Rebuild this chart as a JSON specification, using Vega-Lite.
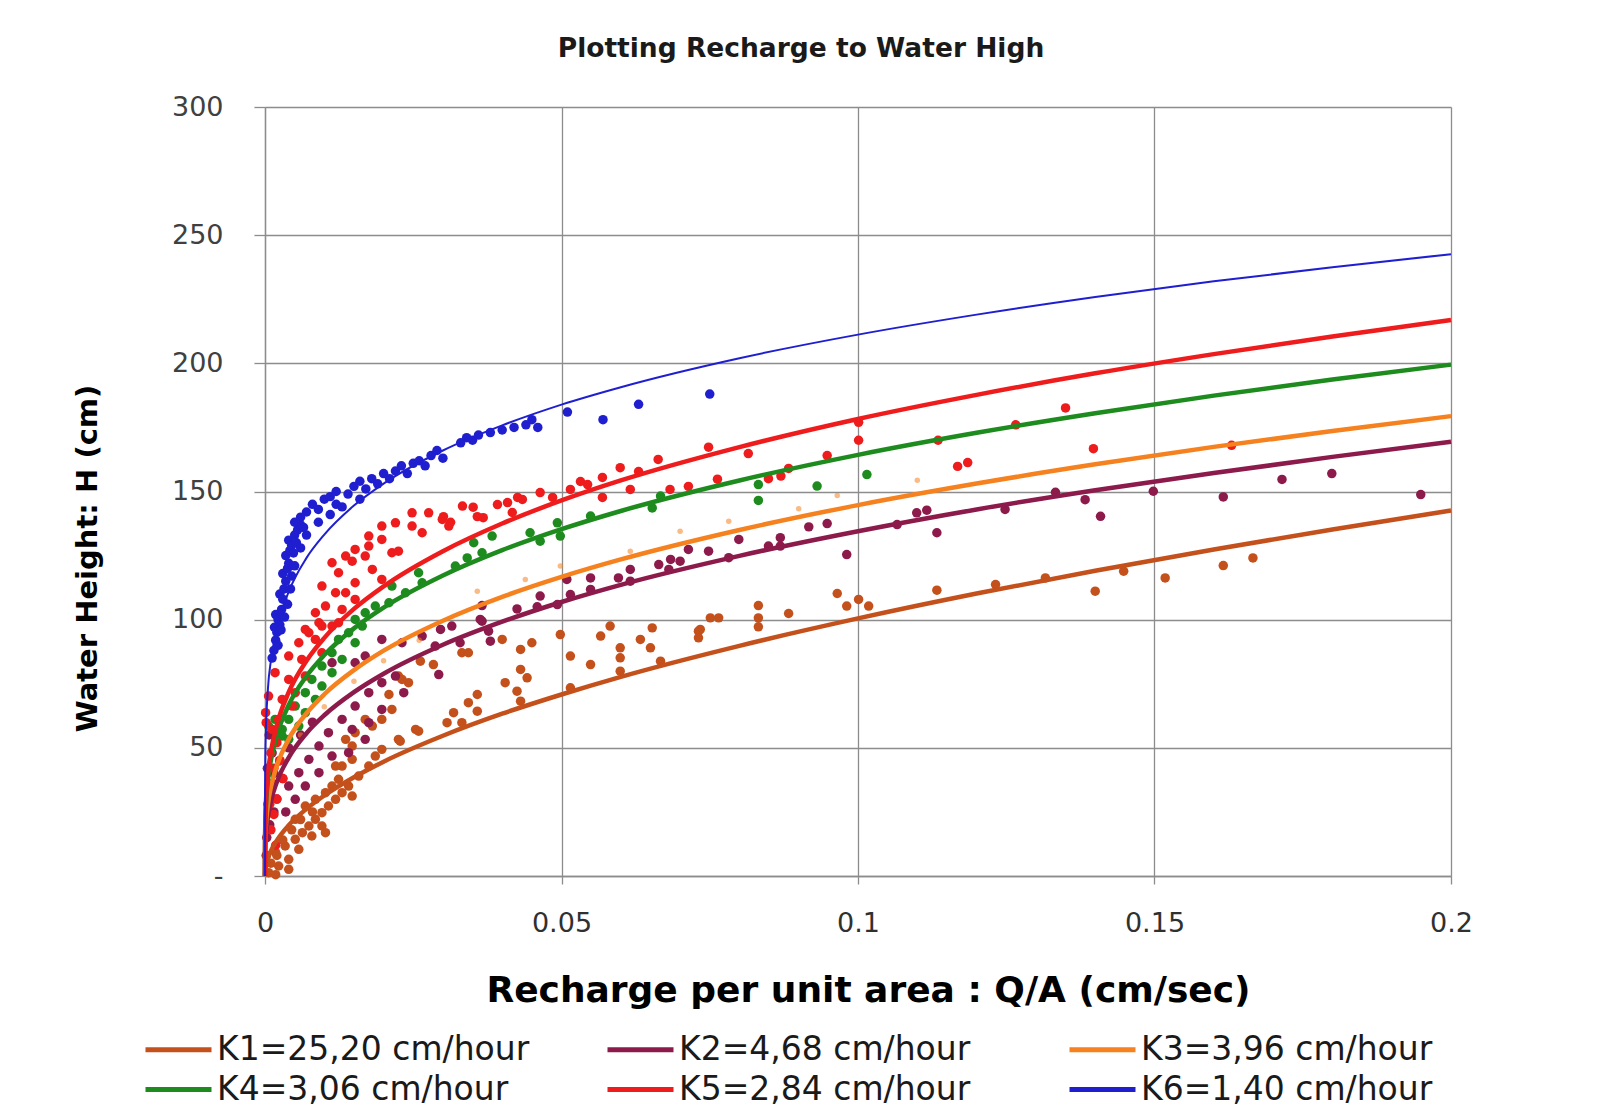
{
"$schema": "https://vega.github.io/schema/vega-lite/v6.json",
"width": 1186, "height": 769,
"autosize": {"type": "none"},
"padding": {"left": 265, "top": 107, "right": 151, "bottom": 241},
"background": "white",
"title": {"text": "Plotting Recharge to Water High", "font": "DejaVu Sans", "fontSize": 26.5, "fontWeight": "bold", "color": "#1a1a1a", "anchor": "middle", "dx": -57, "offset": 31},
"datasets": {
"pts": [
{"k":"K1=25,20 cm/hour","x":0.0006,"h":1.3},{"k":"K1=25,20 cm/hour","x":0.0023,"h":3.9},{"k":"K1=25,20 cm/hour","x":0.004,"h":6.5},{"k":"K1=25,20 cm/hour","x":0.0018,"h":9.1},{"k":"K1=25,20 cm/hour","x":0.0034,"h":11.7},{"k":"K1=25,20 cm/hour","x":0.0051,"h":14.3},{"k":"K1=25,20 cm/hour","x":0.0063,"h":16.9},{"k":"K1=25,20 cm/hour","x":0.0074,"h":19.5},{"k":"K1=25,20 cm/hour","x":0.0085,"h":22.1},{"k":"K1=25,20 cm/hour","x":0.0096,"h":24.7},{"k":"K1=25,20 cm/hour","x":0.0107,"h":27.3},{"k":"K1=25,20 cm/hour","x":0.0119,"h":29.9},{"k":"K1=25,20 cm/hour","x":0.0057,"h":10.4},{"k":"K1=25,20 cm/hour","x":0.0079,"h":15.6},{"k":"K1=25,20 cm/hour","x":0.0096,"h":19.5},{"k":"K1=25,20 cm/hour","x":0.0102,"h":16.9},{"k":"K1=25,20 cm/hour","x":0.004,"h":2.6},{"k":"K1=25,20 cm/hour","x":0.0018,"h":0.5},{"k":"K1=25,20 cm/hour","x":0.0068,"h":27.3},{"k":"K1=25,20 cm/hour","x":0.0085,"h":29.9},{"k":"K1=25,20 cm/hour","x":0.0051,"h":22.1},{"k":"K1=25,20 cm/hour","x":0.0102,"h":32.5},{"k":"K1=25,20 cm/hour","x":0.0113,"h":35.1},{"k":"K1=25,20 cm/hour","x":0.013,"h":32.5},{"k":"K1=25,20 cm/hour","x":0.0141,"h":35.1},{"k":"K1=25,20 cm/hour","x":0.0147,"h":31.2},{"k":"K1=25,20 cm/hour","x":0.0124,"h":37.7},{"k":"K1=25,20 cm/hour","x":0.0158,"h":39},{"k":"K1=25,20 cm/hour","x":0.013,"h":42.9},{"k":"K1=25,20 cm/hour","x":0.0147,"h":45.5},{"k":"K1=25,20 cm/hour","x":0.0175,"h":42.9},{"k":"K1=25,20 cm/hour","x":0.0186,"h":46.8},{"k":"K1=25,20 cm/hour","x":0.0197,"h":49.4},{"k":"K1=25,20 cm/hour","x":0.0119,"h":42.9},{"k":"K1=25,20 cm/hour","x":0.0147,"h":50.7},{"k":"K1=25,20 cm/hour","x":0.0136,"h":53.3},{"k":"K1=25,20 cm/hour","x":0.0152,"h":55.9},{"k":"K1=25,20 cm/hour","x":0.0181,"h":58.5},{"k":"K1=25,20 cm/hour","x":0.0197,"h":61.1},{"k":"K1=25,20 cm/hour","x":0.0214,"h":65},{"k":"K1=25,20 cm/hour","x":0.0254,"h":57.2},{"k":"K1=25,20 cm/hour","x":0.0225,"h":53.3},{"k":"K1=25,20 cm/hour","x":0.0169,"h":61.1},{"k":"K1=25,20 cm/hour","x":0.001,"h":5},{"k":"K1=25,20 cm/hour","x":0.002,"h":8},{"k":"K1=25,20 cm/hour","x":0.003,"h":14},{"k":"K1=25,20 cm/hour","x":0.0045,"h":18},{"k":"K1=25,20 cm/hour","x":0.006,"h":22},{"k":"K1=25,20 cm/hour","x":0.008,"h":25},{"k":"K1=25,20 cm/hour","x":0.0225,"h":78},{"k":"K1=25,20 cm/hour","x":0.0242,"h":75.4},{"k":"K1=25,20 cm/hour","x":0.0209,"h":70.8},
{"k":"K1=25,20 cm/hour","x":0.0231,"h":76.7},{"k":"K1=25,20 cm/hour","x":0.0262,"h":83.8},{"k":"K1=25,20 cm/hour","x":0.0284,"h":82.5},{"k":"K1=25,20 cm/hour","x":0.0332,"h":87.1},{"k":"K1=25,20 cm/hour","x":0.0343,"h":87.1},{"k":"K1=25,20 cm/hour","x":0.04,"h":92.3},{"k":"K1=25,20 cm/hour","x":0.0431,"h":88.4},{"k":"K1=25,20 cm/hour","x":0.045,"h":91},{"k":"K1=25,20 cm/hour","x":0.0498,"h":94.2},{"k":"K1=25,20 cm/hour","x":0.0515,"h":85.8},{"k":"K1=25,20 cm/hour","x":0.0549,"h":82.5},{"k":"K1=25,20 cm/hour","x":0.0566,"h":93.6},{"k":"K1=25,20 cm/hour","x":0.0582,"h":97.5},{"k":"K1=25,20 cm/hour","x":0.0599,"h":89},{"k":"K1=25,20 cm/hour","x":0.0599,"h":85.1},{"k":"K1=25,20 cm/hour","x":0.0633,"h":92.3},{"k":"K1=25,20 cm/hour","x":0.065,"h":89},{"k":"K1=25,20 cm/hour","x":0.0653,"h":96.8},{"k":"K1=25,20 cm/hour","x":0.0667,"h":83.8},{"k":"K1=25,20 cm/hour","x":0.0731,"h":95.5},{"k":"K1=25,20 cm/hour","x":0.0731,"h":92.9},{"k":"K1=25,20 cm/hour","x":0.0751,"h":100.7},{"k":"K1=25,20 cm/hour","x":0.0515,"h":73.4},{"k":"K1=25,20 cm/hour","x":0.0599,"h":79.9},{"k":"K1=25,20 cm/hour","x":0.0431,"h":80.6},{"k":"K1=25,20 cm/hour","x":0.0442,"h":77.3},{"k":"K1=25,20 cm/hour","x":0.0405,"h":75.4},{"k":"K1=25,20 cm/hour","x":0.0425,"h":72.1},{"k":"K1=25,20 cm/hour","x":0.0431,"h":68.2},{"k":"K1=25,20 cm/hour","x":0.0358,"h":70.8},{"k":"K1=25,20 cm/hour","x":0.0343,"h":67.6},{"k":"K1=25,20 cm/hour","x":0.0358,"h":64.3},{"k":"K1=25,20 cm/hour","x":0.0318,"h":63.7},{"k":"K1=25,20 cm/hour","x":0.0307,"h":59.8},{"k":"K1=25,20 cm/hour","x":0.0332,"h":59.8},{"k":"K1=25,20 cm/hour","x":0.0259,"h":56.5},{"k":"K1=25,20 cm/hour","x":0.0228,"h":52.6},
{"k":"K1=25,20 cm/hour","x":0.0832,"h":105.5},{"k":"K1=25,20 cm/hour","x":0.0832,"h":100.7},{"k":"K1=25,20 cm/hour","x":0.0832,"h":97.2},{"k":"K1=25,20 cm/hour","x":0.0883,"h":102.4},{"k":"K1=25,20 cm/hour","x":0.0765,"h":100.7},{"k":"K1=25,20 cm/hour","x":0.0734,"h":96.2},{"k":"K1=25,20 cm/hour","x":0.0965,"h":110.2},{"k":"K1=25,20 cm/hour","x":0.0981,"h":105.3},{"k":"K1=25,20 cm/hour","x":0.1001,"h":107.9},{"k":"K1=25,20 cm/hour","x":0.1018,"h":105.3},{"k":"K1=25,20 cm/hour","x":0.1133,"h":111.5},{"k":"K1=25,20 cm/hour","x":0.1232,"h":113.7},{"k":"K1=25,20 cm/hour","x":0.1316,"h":116.3},{"k":"K1=25,20 cm/hour","x":0.14,"h":111.1},{"k":"K1=25,20 cm/hour","x":0.1448,"h":118.9},{"k":"K1=25,20 cm/hour","x":0.1518,"h":116.3},{"k":"K1=25,20 cm/hour","x":0.1616,"h":121.1},{"k":"K1=25,20 cm/hour","x":0.1666,"h":124.1},
{"k":"K2=4,68 cm/hour","x":0.0003,"h":15},{"k":"K2=4,68 cm/hour","x":0.0008,"h":20},{"k":"K2=4,68 cm/hour","x":0.0005,"h":28},{"k":"K2=4,68 cm/hour","x":0.001,"h":35},{"k":"K2=4,68 cm/hour","x":0.0004,"h":42},{"k":"K2=4,68 cm/hour","x":0.0012,"h":48},{"k":"K2=4,68 cm/hour","x":0.0007,"h":55},{"k":"K2=4,68 cm/hour","x":0.0015,"h":25},{"k":"K2=4,68 cm/hour","x":0.0002,"h":8},{"k":"K2=4,68 cm/hour","x":0.002,"h":30},{"k":"K2=4,68 cm/hour","x":0.003,"h":38},{"k":"K2=4,68 cm/hour","x":0.0025,"h":45},{"k":"K2=4,68 cm/hour","x":0.004,"h":50},{"k":"K2=4,68 cm/hour","x":0.006,"h":55},{"k":"K2=4,68 cm/hour","x":0.008,"h":60},{"k":"K2=4,68 cm/hour","x":0.0035,"h":25},{"k":"K2=4,68 cm/hour","x":0.0015,"h":40},
{"k":"K2=4,68 cm/hour","x":0.004,"h":35.1},{"k":"K2=4,68 cm/hour","x":0.0057,"h":40.3},{"k":"K2=4,68 cm/hour","x":0.0074,"h":45.5},{"k":"K2=4,68 cm/hour","x":0.0091,"h":50.7},{"k":"K2=4,68 cm/hour","x":0.0107,"h":55.9},{"k":"K2=4,68 cm/hour","x":0.013,"h":61.1},{"k":"K2=4,68 cm/hour","x":0.0152,"h":66.3},{"k":"K2=4,68 cm/hour","x":0.0175,"h":71.5},{"k":"K2=4,68 cm/hour","x":0.0197,"h":75.4},{"k":"K2=4,68 cm/hour","x":0.022,"h":78},{"k":"K2=4,68 cm/hour","x":0.0051,"h":29.9},{"k":"K2=4,68 cm/hour","x":0.0068,"h":35.1},{"k":"K2=4,68 cm/hour","x":0.0091,"h":40.3},{"k":"K2=4,68 cm/hour","x":0.0113,"h":46.8},{"k":"K2=4,68 cm/hour","x":0.0141,"h":48.1},{"k":"K2=4,68 cm/hour","x":0.0169,"h":53.3},{"k":"K2=4,68 cm/hour","x":0.0147,"h":57.2},{"k":"K2=4,68 cm/hour","x":0.0175,"h":59.8},{"k":"K2=4,68 cm/hour","x":0.0197,"h":65},{"k":"K2=4,68 cm/hour","x":0.0113,"h":83.2},{"k":"K2=4,68 cm/hour","x":0.0152,"h":83.2},{"k":"K2=4,68 cm/hour","x":0.0169,"h":85.8},{"k":"K2=4,68 cm/hour","x":0.0197,"h":92.3},{"k":"K2=4,68 cm/hour","x":0.0231,"h":91},{"k":"K2=4,68 cm/hour","x":0.0265,"h":93.6},{"k":"K2=4,68 cm/hour","x":0.0287,"h":89.7},{"k":"K2=4,68 cm/hour","x":0.0315,"h":97.5},{"k":"K2=4,68 cm/hour","x":0.0293,"h":78.6},
{"k":"K2=4,68 cm/hour","x":0.0366,"h":105.5},{"k":"K2=4,68 cm/hour","x":0.0425,"h":104.2},{"k":"K2=4,68 cm/hour","x":0.0459,"h":105},{"k":"K2=4,68 cm/hour","x":0.0493,"h":105.9},{"k":"K2=4,68 cm/hour","x":0.0366,"h":99.4},{"k":"K2=4,68 cm/hour","x":0.0329,"h":91},{"k":"K2=4,68 cm/hour","x":0.0377,"h":95.5},{"k":"K2=4,68 cm/hour","x":0.038,"h":91.6},{"k":"K2=4,68 cm/hour","x":0.0234,"h":71.5},{"k":"K2=4,68 cm/hour","x":0.0296,"h":96.2},{"k":"K2=4,68 cm/hour","x":0.0363,"h":100.1},{"k":"K2=4,68 cm/hour","x":0.0464,"h":109.2},{"k":"K2=4,68 cm/hour","x":0.0509,"h":115.7},{"k":"K2=4,68 cm/hour","x":0.0515,"h":109.8},{"k":"K2=4,68 cm/hour","x":0.0549,"h":116.3},{"k":"K2=4,68 cm/hour","x":0.0549,"h":111.8},{"k":"K2=4,68 cm/hour","x":0.0596,"h":116.3},{"k":"K2=4,68 cm/hour","x":0.0616,"h":119.6},{"k":"K2=4,68 cm/hour","x":0.0616,"h":115},{"k":"K2=4,68 cm/hour","x":0.0664,"h":121.5},{"k":"K2=4,68 cm/hour","x":0.0684,"h":123.5},{"k":"K2=4,68 cm/hour","x":0.0681,"h":119.6},{"k":"K2=4,68 cm/hour","x":0.07,"h":122.8},{"k":"K2=4,68 cm/hour","x":0.0714,"h":127.4},{"k":"K2=4,68 cm/hour","x":0.0748,"h":126.7},
{"k":"K2=4,68 cm/hour","x":0.0799,"h":131.3},{"k":"K2=4,68 cm/hour","x":0.0782,"h":124.2},{"k":"K2=4,68 cm/hour","x":0.0849,"h":128.7},{"k":"K2=4,68 cm/hour","x":0.0869,"h":132},{"k":"K2=4,68 cm/hour","x":0.0869,"h":128.7},{"k":"K2=4,68 cm/hour","x":0.0917,"h":136.2},{"k":"K2=4,68 cm/hour","x":0.0948,"h":137.5},{"k":"K2=4,68 cm/hour","x":0.0981,"h":125.4},{"k":"K2=4,68 cm/hour","x":0.1066,"h":137.1},{"k":"K2=4,68 cm/hour","x":0.1099,"h":141.7},{"k":"K2=4,68 cm/hour","x":0.1116,"h":142.7},{"k":"K2=4,68 cm/hour","x":0.1133,"h":133.9},{"k":"K2=4,68 cm/hour","x":0.1248,"h":143},{"k":"K2=4,68 cm/hour","x":0.1333,"h":149.7},{"k":"K2=4,68 cm/hour","x":0.1383,"h":146.8},{"k":"K2=4,68 cm/hour","x":0.1409,"h":140.3},{"k":"K2=4,68 cm/hour","x":0.1498,"h":150.1},{"k":"K2=4,68 cm/hour","x":0.1616,"h":147.9},{"k":"K2=4,68 cm/hour","x":0.1715,"h":154.7},{"k":"K2=4,68 cm/hour","x":0.1799,"h":157},{"k":"K2=4,68 cm/hour","x":0.1949,"h":148.8},
{"k":"K3=3,96 cm/hour","x":0.0358,"h":111.1},{"k":"K3=3,96 cm/hour","x":0.0439,"h":115.7},{"k":"K3=3,96 cm/hour","x":0.0498,"h":120.9},{"k":"K3=3,96 cm/hour","x":0.0616,"h":126.7},{"k":"K3=3,96 cm/hour","x":0.07,"h":134.5},{"k":"K3=3,96 cm/hour","x":0.0782,"h":138.4},{"k":"K3=3,96 cm/hour","x":0.09,"h":143.3},{"k":"K3=3,96 cm/hour","x":0.0965,"h":148.4},{"k":"K3=3,96 cm/hour","x":0.11,"h":154.4},{"k":"K3=3,96 cm/hour","x":0.003,"h":45},{"k":"K3=3,96 cm/hour","x":0.006,"h":55},{"k":"K3=3,96 cm/hour","x":0.01,"h":66},{"k":"K3=3,96 cm/hour","x":0.015,"h":76},{"k":"K3=3,96 cm/hour","x":0.02,"h":84},{"k":"K3=3,96 cm/hour","x":0.026,"h":92},
{"k":"K4=3,06 cm/hour","x":0.0164,"h":97.5},{"k":"K4=3,06 cm/hour","x":0.0141,"h":94.9},{"k":"K4=3,06 cm/hour","x":0.0124,"h":92.3},{"k":"K4=3,06 cm/hour","x":0.0152,"h":91},{"k":"K4=3,06 cm/hour","x":0.0113,"h":87.1},{"k":"K4=3,06 cm/hour","x":0.013,"h":84.5},{"k":"K4=3,06 cm/hour","x":0.0096,"h":81.9},{"k":"K4=3,06 cm/hour","x":0.0113,"h":79.3},{"k":"K4=3,06 cm/hour","x":0.0079,"h":76.7},{"k":"K4=3,06 cm/hour","x":0.0096,"h":74.1},{"k":"K4=3,06 cm/hour","x":0.0068,"h":71.5},{"k":"K4=3,06 cm/hour","x":0.0085,"h":68.9},{"k":"K4=3,06 cm/hour","x":0.0051,"h":66.3},{"k":"K4=3,06 cm/hour","x":0.0068,"h":63.7},{"k":"K4=3,06 cm/hour","x":0.004,"h":61.1},{"k":"K4=3,06 cm/hour","x":0.0057,"h":58.5},{"k":"K4=3,06 cm/hour","x":0.0029,"h":57.2},{"k":"K4=3,06 cm/hour","x":0.0017,"h":61.1},{"k":"K4=3,06 cm/hour","x":0.004,"h":53.3},{"k":"K4=3,06 cm/hour","x":0.0029,"h":54.6},{"k":"K4=3,06 cm/hour","x":0.0006,"h":58.5},
{"k":"K4=3,06 cm/hour","x":0.0259,"h":118.3},{"k":"K4=3,06 cm/hour","x":0.0265,"h":114.4},{"k":"K4=3,06 cm/hour","x":0.0214,"h":113.1},{"k":"K4=3,06 cm/hour","x":0.0237,"h":110.5},{"k":"K4=3,06 cm/hour","x":0.0186,"h":105.3},{"k":"K4=3,06 cm/hour","x":0.0209,"h":106.6},{"k":"K4=3,06 cm/hour","x":0.0152,"h":100.1},{"k":"K4=3,06 cm/hour","x":0.0169,"h":102.7},
{"k":"K4=3,06 cm/hour","x":0.0321,"h":120.9},{"k":"K4=3,06 cm/hour","x":0.0341,"h":124.1},{"k":"K4=3,06 cm/hour","x":0.0366,"h":126.1},{"k":"K4=3,06 cm/hour","x":0.0352,"h":130},{"k":"K4=3,06 cm/hour","x":0.0383,"h":132.6},{"k":"K4=3,06 cm/hour","x":0.0447,"h":133.9},{"k":"K4=3,06 cm/hour","x":0.0464,"h":130.6},{"k":"K4=3,06 cm/hour","x":0.0493,"h":137.8},{"k":"K4=3,06 cm/hour","x":0.0498,"h":132.6},{"k":"K4=3,06 cm/hour","x":0.0549,"h":140.4},{"k":"K4=3,06 cm/hour","x":0.0653,"h":143.6},{"k":"K4=3,06 cm/hour","x":0.0667,"h":148.2},{"k":"K4=3,06 cm/hour","x":0.0832,"h":152.7},{"k":"K4=3,06 cm/hour","x":0.0832,"h":146.5},{"k":"K4=3,06 cm/hour","x":0.0931,"h":152.1},{"k":"K4=3,06 cm/hour","x":0.1015,"h":156.6},
{"k":"K5=2,84 cm/hour","x":0.0301,"h":140.2},{"k":"K5=2,84 cm/hour","x":0.0313,"h":138},{"k":"K5=2,84 cm/hour","x":0.0333,"h":144.3},{"k":"K5=2,84 cm/hour","x":0.0351,"h":143.9},{"k":"K5=2,84 cm/hour","x":0.0358,"h":140.2},{"k":"K5=2,84 cm/hour","x":0.0368,"h":139.8},{"k":"K5=2,84 cm/hour","x":0.0392,"h":144.9},{"k":"K5=2,84 cm/hour","x":0.0409,"h":145.7},{"k":"K5=2,84 cm/hour","x":0.0426,"h":147.7},{"k":"K5=2,84 cm/hour","x":0.0434,"h":146.9},{"k":"K5=2,84 cm/hour","x":0.0417,"h":141.8},{"k":"K5=2,84 cm/hour","x":0.0464,"h":149.6},{"k":"K5=2,84 cm/hour","x":0.0485,"h":147.7},{"k":"K5=2,84 cm/hour","x":0.0515,"h":150.8},{"k":"K5=2,84 cm/hour","x":0.0532,"h":153.9},{"k":"K5=2,84 cm/hour","x":0.0544,"h":152.7},{"k":"K5=2,84 cm/hour","x":0.0569,"h":155.5},{"k":"K5=2,84 cm/hour","x":0.0599,"h":159.3},{"k":"K5=2,84 cm/hour","x":0.0569,"h":147.7},{"k":"K5=2,84 cm/hour","x":0.0616,"h":150.8},{"k":"K5=2,84 cm/hour","x":0.063,"h":157.8},{"k":"K5=2,84 cm/hour","x":0.0663,"h":162.5},{"k":"K5=2,84 cm/hour","x":0.0683,"h":150.8},{"k":"K5=2,84 cm/hour","x":0.0714,"h":152},{"k":"K5=2,84 cm/hour","x":0.0748,"h":167.3},{"k":"K5=2,84 cm/hour","x":0.0763,"h":154.8},
{"k":"K5=2,84 cm/hour","x":0.0815,"h":164.8},{"k":"K5=2,84 cm/hour","x":0.0849,"h":155},{"k":"K5=2,84 cm/hour","x":0.087,"h":156},{"k":"K5=2,84 cm/hour","x":0.0883,"h":159},{"k":"K5=2,84 cm/hour","x":0.0948,"h":164},{"k":"K5=2,84 cm/hour","x":0.1001,"h":177},{"k":"K5=2,84 cm/hour","x":0.1001,"h":170},{"k":"K5=2,84 cm/hour","x":0.1135,"h":170},{"k":"K5=2,84 cm/hour","x":0.1168,"h":159.8},{"k":"K5=2,84 cm/hour","x":0.1185,"h":161.3},{"k":"K5=2,84 cm/hour","x":0.1266,"h":176},{"k":"K5=2,84 cm/hour","x":0.135,"h":182.6},{"k":"K5=2,84 cm/hour","x":0.1397,"h":166.7},{"k":"K5=2,84 cm/hour","x":0.163,"h":168},
{"k":"K5=2,84 cm/hour","x":0.0175,"h":132.6},{"k":"K5=2,84 cm/hour","x":0.0197,"h":136.5},{"k":"K5=2,84 cm/hour","x":0.022,"h":137.8},{"k":"K5=2,84 cm/hour","x":0.0248,"h":141.7},{"k":"K5=2,84 cm/hour","x":0.0276,"h":141.7},{"k":"K5=2,84 cm/hour","x":0.0299,"h":139.1},{"k":"K5=2,84 cm/hour","x":0.031,"h":136.5},{"k":"K5=2,84 cm/hour","x":0.0248,"h":136.5},{"k":"K5=2,84 cm/hour","x":0.0265,"h":133.9},{"k":"K5=2,84 cm/hour","x":0.0197,"h":131.3},{"k":"K5=2,84 cm/hour","x":0.0175,"h":128.7},{"k":"K5=2,84 cm/hour","x":0.0152,"h":127.4},{"k":"K5=2,84 cm/hour","x":0.0136,"h":124.8},{"k":"K5=2,84 cm/hour","x":0.0147,"h":122.8},{"k":"K5=2,84 cm/hour","x":0.0113,"h":122.2},{"k":"K5=2,84 cm/hour","x":0.0124,"h":118.3},{"k":"K5=2,84 cm/hour","x":0.0181,"h":119.6},{"k":"K5=2,84 cm/hour","x":0.0197,"h":115.7},{"k":"K5=2,84 cm/hour","x":0.0214,"h":126.1},{"k":"K5=2,84 cm/hour","x":0.0225,"h":126.7},{"k":"K5=2,84 cm/hour","x":0.0169,"h":124.8},{"k":"K5=2,84 cm/hour","x":0.0096,"h":113.1},{"k":"K5=2,84 cm/hour","x":0.0119,"h":110.5},{"k":"K5=2,84 cm/hour","x":0.0152,"h":114.4},{"k":"K5=2,84 cm/hour","x":0.0136,"h":110.5},{"k":"K5=2,84 cm/hour","x":0.0102,"h":105.3},{"k":"K5=2,84 cm/hour","x":0.0085,"h":102.7},{"k":"K5=2,84 cm/hour","x":0.013,"h":104},{"k":"K5=2,84 cm/hour","x":0.0152,"h":107.9},{"k":"K5=2,84 cm/hour","x":0.0091,"h":98.8},{"k":"K5=2,84 cm/hour","x":0.0113,"h":97.5},{"k":"K5=2,84 cm/hour","x":0.0074,"h":94.9},
{"k":"K5=2,84 cm/hour","x":0.0068,"h":96.2},{"k":"K5=2,84 cm/hour","x":0.0096,"h":97.5},{"k":"K5=2,84 cm/hour","x":0.0124,"h":98.8},{"k":"K5=2,84 cm/hour","x":0.0057,"h":91},{"k":"K5=2,84 cm/hour","x":0.0085,"h":92.3},{"k":"K5=2,84 cm/hour","x":0.004,"h":85.8},{"k":"K5=2,84 cm/hour","x":0.0062,"h":84.5},{"k":"K5=2,84 cm/hour","x":0.0096,"h":87.1},{"k":"K5=2,84 cm/hour","x":0.0017,"h":79.3},{"k":"K5=2,84 cm/hour","x":0.004,"h":76.7},{"k":"K5=2,84 cm/hour","x":0.0068,"h":78},{"k":"K5=2,84 cm/hour","x":0.0006,"h":70.2},{"k":"K5=2,84 cm/hour","x":0.0029,"h":68.9},{"k":"K5=2,84 cm/hour","x":0.0051,"h":71.5},{"k":"K5=2,84 cm/hour","x":0.0001,"h":63.7},{"k":"K5=2,84 cm/hour","x":0.0023,"h":61.1},{"k":"K5=2,84 cm/hour","x":0.0046,"h":66.3},{"k":"K5=2,84 cm/hour","x":0.0012,"h":57.2},{"k":"K5=2,84 cm/hour","x":0.0002,"h":59.8},
{"k":"K5=2,84 cm/hour","x":0.001,"h":48},{"k":"K5=2,84 cm/hour","x":0.0015,"h":42},{"k":"K5=2,84 cm/hour","x":0.0012,"h":36},{"k":"K5=2,84 cm/hour","x":0.002,"h":30},{"k":"K5=2,84 cm/hour","x":0.0015,"h":24},{"k":"K5=2,84 cm/hour","x":0.001,"h":18},{"k":"K5=2,84 cm/hour","x":0.0018,"h":12},{"k":"K5=2,84 cm/hour","x":0.0025,"h":45},{"k":"K5=2,84 cm/hour","x":0.003,"h":38},{"k":"K5=2,84 cm/hour","x":0.0008,"h":28},{"k":"K5=2,84 cm/hour","x":0.002,"h":52},
{"k":"K6=1,40 cm/hour","x":0.0012,"h":85},{"k":"K6=1,40 cm/hour","x":0.0015,"h":88},{"k":"K6=1,40 cm/hour","x":0.0016,"h":97},{"k":"K6=1,40 cm/hour","x":0.0018,"h":92},{"k":"K6=1,40 cm/hour","x":0.0018,"h":102},{"k":"K6=1,40 cm/hour","x":0.002,"h":95},{"k":"K6=1,40 cm/hour","x":0.0022,"h":90},{"k":"K6=1,40 cm/hour","x":0.0022,"h":100},{"k":"K6=1,40 cm/hour","x":0.0025,"h":98},{"k":"K6=1,40 cm/hour","x":0.0025,"h":110},{"k":"K6=1,40 cm/hour","x":0.0027,"h":96},{"k":"K6=1,40 cm/hour","x":0.0028,"h":104},{"k":"K6=1,40 cm/hour","x":0.003,"h":108},{"k":"K6=1,40 cm/hour","x":0.003,"h":118},{"k":"K6=1,40 cm/hour","x":0.0032,"h":112},{"k":"K6=1,40 cm/hour","x":0.0033,"h":101},{"k":"K6=1,40 cm/hour","x":0.0035,"h":115},{"k":"K6=1,40 cm/hour","x":0.0035,"h":125},{"k":"K6=1,40 cm/hour","x":0.0038,"h":106},{"k":"K6=1,40 cm/hour","x":0.0038,"h":120},{"k":"K6=1,40 cm/hour","x":0.004,"h":122},{"k":"K6=1,40 cm/hour","x":0.004,"h":131},{"k":"K6=1,40 cm/hour","x":0.0042,"h":127},{"k":"K6=1,40 cm/hour","x":0.0043,"h":112},{"k":"K6=1,40 cm/hour","x":0.0045,"h":117},{"k":"K6=1,40 cm/hour","x":0.0045,"h":129},{"k":"K6=1,40 cm/hour","x":0.0048,"h":126},{"k":"K6=1,40 cm/hour","x":0.005,"h":121},{"k":"K6=1,40 cm/hour","x":0.005,"h":133},{"k":"K6=1,40 cm/hour","x":0.0053,"h":130},{"k":"K6=1,40 cm/hour","x":0.0055,"h":135},{"k":"K6=1,40 cm/hour","x":0.006,"h":128},{"k":"K6=1,40 cm/hour","x":0.006,"h":137},{"k":"K6=1,40 cm/hour","x":0.005,"h":138},{"k":"K6=1,40 cm/hour","x":0.006,"h":140},{"k":"K6=1,40 cm/hour","x":0.0065,"h":136},{"k":"K6=1,40 cm/hour","x":0.007,"h":133},{"k":"K6=1,40 cm/hour","x":0.007,"h":142},{"k":"K6=1,40 cm/hour","x":0.008,"h":145},{"k":"K6=1,40 cm/hour","x":0.009,"h":138},{"k":"K6=1,40 cm/hour","x":0.009,"h":143},{"k":"K6=1,40 cm/hour","x":0.01,"h":147},{"k":"K6=1,40 cm/hour","x":0.011,"h":141},{"k":"K6=1,40 cm/hour","x":0.011,"h":148},{"k":"K6=1,40 cm/hour","x":0.012,"h":145},{"k":"K6=1,40 cm/hour","x":0.012,"h":150},{"k":"K6=1,40 cm/hour","x":0.013,"h":144},{"k":"K6=1,40 cm/hour","x":0.014,"h":149},{"k":"K6=1,40 cm/hour","x":0.015,"h":152},{"k":"K6=1,40 cm/hour","x":0.016,"h":147},{"k":"K6=1,40 cm/hour","x":0.016,"h":154},{"k":"K6=1,40 cm/hour","x":0.017,"h":151},{"k":"K6=1,40 cm/hour","x":0.018,"h":155},{"k":"K6=1,40 cm/hour","x":0.019,"h":153},{"k":"K6=1,40 cm/hour","x":0.02,"h":157},{"k":"K6=1,40 cm/hour","x":0.021,"h":155},{"k":"K6=1,40 cm/hour","x":0.022,"h":158},{"k":"K6=1,40 cm/hour","x":0.023,"h":160},{"k":"K6=1,40 cm/hour","x":0.024,"h":157},{"k":"K6=1,40 cm/hour","x":0.025,"h":161},{"k":"K6=1,40 cm/hour","x":0.026,"h":162},{"k":"K6=1,40 cm/hour","x":0.027,"h":160},{"k":"K6=1,40 cm/hour","x":0.028,"h":164},{"k":"K6=1,40 cm/hour","x":0.029,"h":166},{"k":"K6=1,40 cm/hour","x":0.03,"h":163},{"k":"K6=1,40 cm/hour","x":0.033,"h":169},{"k":"K6=1,40 cm/hour","x":0.034,"h":171},{"k":"K6=1,40 cm/hour","x":0.035,"h":170},{"k":"K6=1,40 cm/hour","x":0.036,"h":172},{"k":"K6=1,40 cm/hour","x":0.038,"h":173},{"k":"K6=1,40 cm/hour","x":0.04,"h":174},{"k":"K6=1,40 cm/hour","x":0.042,"h":175},{"k":"K6=1,40 cm/hour","x":0.044,"h":176},{"k":"K6=1,40 cm/hour","x":0.045,"h":178},{"k":"K6=1,40 cm/hour","x":0.046,"h":175},{"k":"K6=1,40 cm/hour","x":0.051,"h":181},{"k":"K6=1,40 cm/hour","x":0.057,"h":178},{"k":"K6=1,40 cm/hour","x":0.063,"h":184},{"k":"K6=1,40 cm/hour","x":0.075,"h":188}
],
"fit": [
{"k":"K1=25,20 cm/hour","x":0,"h":0},{"k":"K1=25,20 cm/hour","x":0.00001,"h":1.0},{"k":"K1=25,20 cm/hour","x":0.0001,"h":3.1},{"k":"K1=25,20 cm/hour","x":0.0005,"h":6.9},{"k":"K1=25,20 cm/hour","x":0.001,"h":9.8},{"k":"K1=25,20 cm/hour","x":0.002,"h":13.9},{"k":"K1=25,20 cm/hour","x":0.004,"h":19.8},{"k":"K1=25,20 cm/hour","x":0.007,"h":26.2},{"k":"K1=25,20 cm/hour","x":0.01,"h":31.4},{"k":"K1=25,20 cm/hour","x":0.015,"h":38.5},{"k":"K1=25,20 cm/hour","x":0.02,"h":44.6},{"k":"K1=25,20 cm/hour","x":0.03,"h":54.7},{"k":"K1=25,20 cm/hour","x":0.04,"h":63.3},{"k":"K1=25,20 cm/hour","x":0.05,"h":70.8},{"k":"K1=25,20 cm/hour","x":0.06,"h":77.7},{"k":"K1=25,20 cm/hour","x":0.08,"h":89.8},{"k":"K1=25,20 cm/hour","x":0.1,"h":100.5},{"k":"K1=25,20 cm/hour","x":0.12,"h":110.2},{"k":"K1=25,20 cm/hour","x":0.14,"h":119.1},{"k":"K1=25,20 cm/hour","x":0.16,"h":127.4},{"k":"K1=25,20 cm/hour","x":0.18,"h":135.2},{"k":"K1=25,20 cm/hour","x":0.2,"h":142.6},
{"k":"K2=4,68 cm/hour","x":0,"h":0},{"k":"K2=4,68 cm/hour","x":0.00001,"h":6.3},{"k":"K2=4,68 cm/hour","x":0.0001,"h":13.6},{"k":"K2=4,68 cm/hour","x":0.0005,"h":23.2},{"k":"K2=4,68 cm/hour","x":0.001,"h":29.2},{"k":"K2=4,68 cm/hour","x":0.002,"h":36.7},{"k":"K2=4,68 cm/hour","x":0.004,"h":46.2},{"k":"K2=4,68 cm/hour","x":0.007,"h":55.7},{"k":"K2=4,68 cm/hour","x":0.01,"h":62.7},{"k":"K2=4,68 cm/hour","x":0.015,"h":71.7},{"k":"K2=4,68 cm/hour","x":0.02,"h":78.9},{"k":"K2=4,68 cm/hour","x":0.03,"h":90.2},{"k":"K2=4,68 cm/hour","x":0.04,"h":99.2},{"k":"K2=4,68 cm/hour","x":0.05,"h":106.9},{"k":"K2=4,68 cm/hour","x":0.06,"h":113.6},{"k":"K2=4,68 cm/hour","x":0.08,"h":124.9},{"k":"K2=4,68 cm/hour","x":0.1,"h":134.5},{"k":"K2=4,68 cm/hour","x":0.12,"h":143.0},{"k":"K2=4,68 cm/hour","x":0.14,"h":150.5},{"k":"K2=4,68 cm/hour","x":0.16,"h":157.2},{"k":"K2=4,68 cm/hour","x":0.18,"h":163.5},{"k":"K2=4,68 cm/hour","x":0.2,"h":169.4},
{"k":"K3=3,96 cm/hour","x":0,"h":0},{"k":"K3=3,96 cm/hour","x":0.00001,"h":8.3},{"k":"K3=3,96 cm/hour","x":0.0001,"h":17.0},{"k":"K3=3,96 cm/hour","x":0.0005,"h":28.0},{"k":"K3=3,96 cm/hour","x":0.001,"h":34.7},{"k":"K3=3,96 cm/hour","x":0.002,"h":43.0},{"k":"K3=3,96 cm/hour","x":0.004,"h":53.4},{"k":"K3=3,96 cm/hour","x":0.007,"h":63.5},{"k":"K3=3,96 cm/hour","x":0.01,"h":70.9},{"k":"K3=3,96 cm/hour","x":0.015,"h":80.3},{"k":"K3=3,96 cm/hour","x":0.02,"h":87.9},{"k":"K3=3,96 cm/hour","x":0.03,"h":99.6},{"k":"K3=3,96 cm/hour","x":0.04,"h":108.9},{"k":"K3=3,96 cm/hour","x":0.05,"h":116.7},{"k":"K3=3,96 cm/hour","x":0.06,"h":123.5},{"k":"K3=3,96 cm/hour","x":0.08,"h":135.0},{"k":"K3=3,96 cm/hour","x":0.1,"h":144.7},{"k":"K3=3,96 cm/hour","x":0.12,"h":153.1},{"k":"K3=3,96 cm/hour","x":0.14,"h":160.6},{"k":"K3=3,96 cm/hour","x":0.16,"h":167.4},{"k":"K3=3,96 cm/hour","x":0.18,"h":173.6},{"k":"K3=3,96 cm/hour","x":0.2,"h":179.4},
{"k":"K4=3,06 cm/hour","x":0,"h":0},{"k":"K4=3,06 cm/hour","x":0.00001,"h":12.5},{"k":"K4=3,06 cm/hour","x":0.0001,"h":23.7},{"k":"K4=3,06 cm/hour","x":0.0005,"h":37.3},{"k":"K4=3,06 cm/hour","x":0.001,"h":45.2},{"k":"K4=3,06 cm/hour","x":0.002,"h":54.9},{"k":"K4=3,06 cm/hour","x":0.004,"h":66.7},{"k":"K4=3,06 cm/hour","x":0.007,"h":78.0},{"k":"K4=3,06 cm/hour","x":0.01,"h":86.2},{"k":"K4=3,06 cm/hour","x":0.015,"h":96.6},{"k":"K4=3,06 cm/hour","x":0.02,"h":104.7},{"k":"K4=3,06 cm/hour","x":0.03,"h":117.2},{"k":"K4=3,06 cm/hour","x":0.04,"h":127.1},{"k":"K4=3,06 cm/hour","x":0.05,"h":135.3},{"k":"K4=3,06 cm/hour","x":0.06,"h":142.4},{"k":"K4=3,06 cm/hour","x":0.08,"h":154.3},{"k":"K4=3,06 cm/hour","x":0.1,"h":164.3},{"k":"K4=3,06 cm/hour","x":0.12,"h":172.9},{"k":"K4=3,06 cm/hour","x":0.14,"h":180.5},{"k":"K4=3,06 cm/hour","x":0.16,"h":187.4},{"k":"K4=3,06 cm/hour","x":0.18,"h":193.7},{"k":"K4=3,06 cm/hour","x":0.2,"h":199.5},
{"k":"K5=2,84 cm/hour","x":0,"h":0},{"k":"K5=2,84 cm/hour","x":0.00001,"h":13.2},{"k":"K5=2,84 cm/hour","x":0.0001,"h":25.2},{"k":"K5=2,84 cm/hour","x":0.0005,"h":39.8},{"k":"K5=2,84 cm/hour","x":0.001,"h":48.4},{"k":"K5=2,84 cm/hour","x":0.002,"h":58.9},{"k":"K5=2,84 cm/hour","x":0.004,"h":71.7},{"k":"K5=2,84 cm/hour","x":0.007,"h":84.0},{"k":"K5=2,84 cm/hour","x":0.01,"h":92.9},{"k":"K5=2,84 cm/hour","x":0.015,"h":104.2},{"k":"K5=2,84 cm/hour","x":0.02,"h":113.0},{"k":"K5=2,84 cm/hour","x":0.03,"h":126.7},{"k":"K5=2,84 cm/hour","x":0.04,"h":137.5},{"k":"K5=2,84 cm/hour","x":0.05,"h":146.5},{"k":"K5=2,84 cm/hour","x":0.06,"h":154.3},{"k":"K5=2,84 cm/hour","x":0.08,"h":167.3},{"k":"K5=2,84 cm/hour","x":0.1,"h":178.3},{"k":"K5=2,84 cm/hour","x":0.12,"h":187.7},{"k":"K5=2,84 cm/hour","x":0.14,"h":196.1},{"k":"K5=2,84 cm/hour","x":0.16,"h":203.6},{"k":"K5=2,84 cm/hour","x":0.18,"h":210.5},{"k":"K5=2,84 cm/hour","x":0.2,"h":216.9},
{"k":"K6=1,40 cm/hour","x":0,"h":0},{"k":"K6=1,40 cm/hour","x":0.00001,"h":33.5},{"k":"K6=1,40 cm/hour","x":0.0001,"h":53.0},{"k":"K6=1,40 cm/hour","x":0.0005,"h":73.2},{"k":"K6=1,40 cm/hour","x":0.001,"h":84.1},{"k":"K6=1,40 cm/hour","x":0.002,"h":96.6},{"k":"K6=1,40 cm/hour","x":0.004,"h":110.9},{"k":"K6=1,40 cm/hour","x":0.007,"h":124.1},{"k":"K6=1,40 cm/hour","x":0.01,"h":133.2},{"k":"K6=1,40 cm/hour","x":0.015,"h":144.5},{"k":"K6=1,40 cm/hour","x":0.02,"h":153.1},{"k":"K6=1,40 cm/hour","x":0.03,"h":166.0},{"k":"K6=1,40 cm/hour","x":0.04,"h":175.8},{"k":"K6=1,40 cm/hour","x":0.05,"h":183.9},{"k":"K6=1,40 cm/hour","x":0.06,"h":190.7},{"k":"K6=1,40 cm/hour","x":0.08,"h":202.0},{"k":"K6=1,40 cm/hour","x":0.1,"h":211.2},{"k":"K6=1,40 cm/hour","x":0.12,"h":219.0},{"k":"K6=1,40 cm/hour","x":0.14,"h":225.9},{"k":"K6=1,40 cm/hour","x":0.16,"h":232.0},{"k":"K6=1,40 cm/hour","x":0.18,"h":237.5},{"k":"K6=1,40 cm/hour","x":0.2,"h":242.6}
]
},
"layer": [
{"data": {"name": "pts"},
 "mark": {"type": "circle", "opacity": 1},
 "encoding": {
  "x": {"field": "x", "type": "quantitative", "scale": {"domain": [0, 0.2], "nice": false, "zero": true},
   "axis": {"title": "Recharge per unit area : Q/A (cm/sec)", "values": [0, 0.05, 0.1, 0.15, 0.2], "labelExpr": "'' + datum.value",
    "labelFont": "DejaVu Sans", "labelFontSize": 27, "labelColor": "#303030", "labelPadding": 26, "labelFlush": false,
    "tickSize": 8, "tickColor": "#8c8c8c", "tickWidth": 1.3, "domainColor": "#8c8c8c", "domainWidth": 1.3, "gridColor": "#8c8c8c", "gridWidth": 1.3,
    "titleFont": "DejaVu Sans", "titleFontSize": 36, "titleFontWeight": "bold", "titleColor": "#000000",
    "titleX": 603, "titleY": 114, "titleAlign": "center", "titleBaseline": "middle"}},
  "y": {"field": "h", "type": "quantitative", "scale": {"domain": [0, 300], "nice": false},
   "axis": {"title": "Water Height: H (cm)", "values": [0, 50, 100, 150, 200, 250, 300], "labelExpr": "datum.value == 0 ? '-' : datum.label",
    "labelFont": "DejaVu Sans", "labelFontSize": 27, "labelColor": "#404040", "labelPadding": 31,
    "tickSize": 11, "tickColor": "#8c8c8c", "tickWidth": 1.3, "domainColor": "#8c8c8c", "domainWidth": 1.3, "gridColor": "#8c8c8c", "gridWidth": 1.3,
    "titleFont": "DejaVu Sans", "titleFontSize": 29, "titleFontWeight": "bold", "titleColor": "#000000",
    "titleX": -178, "titleY": 451, "titleAngle": -90, "titleAlign": "center", "titleBaseline": "middle"}},
  "color": {"field": "k", "type": "nominal",
   "scale": {"domain": ["K1=25,20 cm/hour", "K2=4,68 cm/hour", "K3=3,96 cm/hour", "K4=3,06 cm/hour", "K5=2,84 cm/hour", "K6=1,40 cm/hour"],
    "range": ["#C4501C", "#8C1A4A", "#F5811F", "#1E8B1E", "#EE1C1C", "#1F1FD0"]}},
  "size": {"condition": {"test": "datum.k == 'K3=3,96 cm/hour'", "value": 30}, "value": 90},
  "opacity": {"condition": {"test": "datum.k == 'K3=3,96 cm/hour'", "value": 0.55}, "value": 1}
 }},
{"data": {"name": "fit"},
 "mark": {"type": "line", "interpolate": "monotone"},
 "encoding": {
  "x": {"field": "x", "type": "quantitative"},
  "y": {"field": "h", "type": "quantitative"},
  "color": {"field": "k", "type": "nominal",
   "legend": {"title": null, "orient": "none", "legendX": -103, "legendY": 926, "direction": "horizontal", "columns": 3, "gridAlign": "all",
    "columnPadding": 67, "rowPadding": 6, "symbolType": "M-3,0H3", "symbolSize": 484, "symbolStrokeWidth": 5,
    "labelFont": "DejaVu Sans", "labelFontSize": 33, "labelColor": "#1a1a1a", "labelOffset": 22, "labelLimit": 600}},
  "strokeWidth": {"condition": {"test": "datum.k == 'K6=1,40 cm/hour'", "value": 2}, "value": 4.5}
 }}
],
"config": {"view": {"stroke": null}, "font": "DejaVu Sans"}
}
